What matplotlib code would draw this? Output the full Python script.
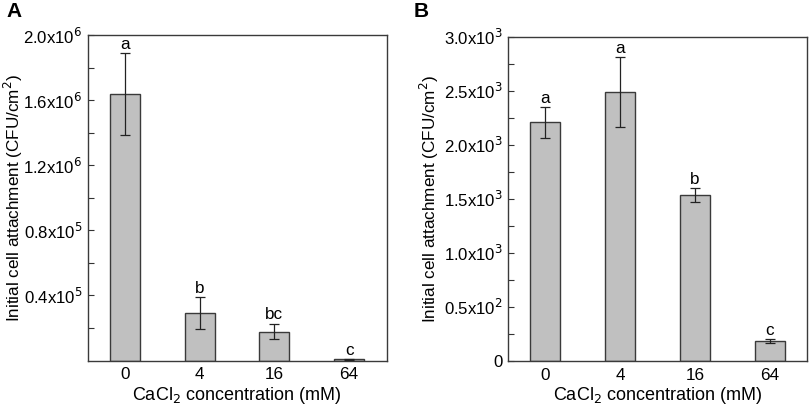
import matplotlib
matplotlib.use("Agg")
import matplotlib.pyplot as plt
from matplotlib.ticker import FixedLocator

plt.rcParams['font.family'] = ['Liberation Sans', 'DejaVu Sans']

categories = ["0", "4", "16", "64"]

# Panel A
a_means = [1.635e6, 0.291e6, 0.178e6, 0.007e6]
a_errs = [0.252e6, 0.100e6, 0.048e6, 0.002e6]
a_letters = ["a", "b", "bc", "c"]
a_ticks = [0.4e6, 0.8e6, 1.2e6, 1.6e6, 2.0e6]
a_ticklabels = ["0.4x10$^{5}$", "0.8x10$^{5}$", "1.2x10$^{6}$", "1.6x10$^{6}$", "2.0x10$^{6}$"]
a_minor = [0.2e6, 0.6e6, 1.0e6, 1.4e6, 1.8e6]

# Panel B
b_means = [2205, 2486, 1531, 185]
b_errs = [142, 320, 65, 17]
b_letters = ["a", "a", "b", "c"]
b_ticks = [0, 500, 1000, 1500, 2000, 2500, 3000]
b_ticklabels = ["0", "0.5x10$^{2}$", "1.0x10$^{3}$", "1.5x10$^{3}$", "2.0x10$^{3}$", "2.5x10$^{3}$", "3.0x10$^{3}$"]
b_minor = [250, 750, 1250, 1750, 2250, 2750]

fig = plt.figure(figsize=(8.09, 4.12), dpi=100)
axA = fig.add_axes([87.5/809, 1 - 360.5/412, 299/809, 325.5/412])
axB = fig.add_axes([508/809, 1 - 361/412, 299/809, 324.5/412])

def draw(ax, means, errs, letters, ymax, ticks, ticklabels, minor, label_off, ylab_x):
    x = list(range(len(categories)))
    ax.bar(x, means, width=0.4, color="#c0c0c0", edgecolor="#3a3a3a", linewidth=1.0, zorder=2)
    ax.errorbar(x, means, yerr=errs, fmt="none", ecolor="#222222", elinewidth=0.9,
                capsize=3.5, capthick=0.9, zorder=3)
    for xi, m, e, t in zip(x, means, errs, letters):
        ax.text(xi, m + e + label_off, t, ha="center", va="bottom", fontsize=12.3)
    ax.set_xlim(-0.5, 3.5)
    ax.set_ylim(0, ymax)
    ax.set_xticks(x)
    ax.set_xticklabels(categories, fontsize=12.3)
    ax.tick_params(axis="x", length=0, pad=5)
    ax.yaxis.set_major_locator(FixedLocator(ticks))
    ax.set_yticklabels(ticklabels, fontsize=12.1)
    ax.yaxis.set_minor_locator(FixedLocator(minor))
    ax.tick_params(axis="y", which="both", direction="in", length=4, width=0.8, color="#333333", pad=3.5)
    for s in ax.spines.values():
        s.set_color("#3a3a3a")
        s.set_linewidth(1.0)
    ax.set_xlabel("CaCl$_2$ concentration (mM)", fontsize=13, labelpad=1.5)
    ax.set_ylabel("Initial cell attachment (CFU/cm$^2$)", fontsize=12.3)
    ax.yaxis.set_label_coords(ylab_x, 0.5)

draw(axA, a_means, a_errs, a_letters, 2.0e6, a_ticks, a_ticklabels, a_minor, 0.008e6, (25 - 87.5) / 299)
draw(axB, b_means, b_errs, b_letters, 3000, b_ticks, b_ticklabels, b_minor, 12, (441 - 508) / 299)

fig.text(6/809, 1 - 2/412, "A", fontsize=15, fontweight="bold", ha="left", va="top")
fig.text(414/809, 1 - 2/412, "B", fontsize=15, fontweight="bold", ha="left", va="top")

fig.savefig("out.png", dpi=100)
